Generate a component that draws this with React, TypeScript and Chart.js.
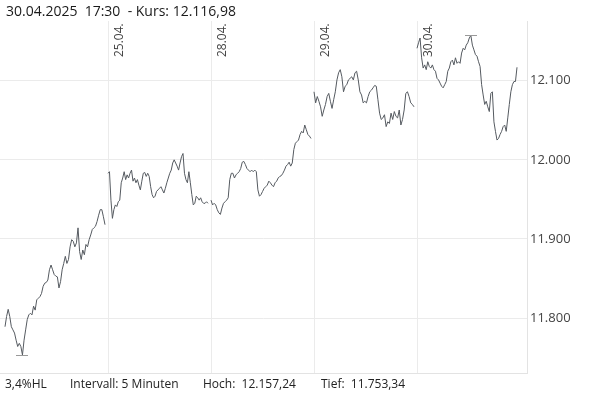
import React, { useEffect, useRef } from "react";
import { Chart, registerables } from "chart.js";

Chart.register(...registerables);

// Day session labels (first day 24.04. has no label)
const dayLabels = ["24.04.", "25.04.", "28.04.", "29.04.", "30.04."];
const shownDayLabels = ["", "25.04.", "28.04.", "29.04.", "30.04."];

// 5-minute closes per trading day
const day1 = [
  11789, 11802, 11811, 11802, 11789, 11785, 11781, 11772, 11764, 11768, 11764, 11753.34,
  11772, 11785, 11798, 11804, 11806, 11804, 11815, 11810, 11823, 11825, 11827, 11831,
  11840, 11844, 11845, 11848, 11861, 11867, 11861, 11855, 11853, 11852, 11838, 11846,
  11861, 11869, 11878, 11869, 11874, 11890, 11899, 11897, 11890, 11895, 11914, 11884,
  11874, 11886, 11880, 11893, 11890, 11899, 11905, 11912, 11914, 11916, 11922, 11930,
  11937, 11937, 11928, 11918,
];
const day2 = [
  11983, 11985, 11949, 11926, 11937, 11943, 11941, 11947, 11949, 11971, 11977, 11985,
  11975, 11981, 11977, 11983, 11987, 11973, 11977, 11971, 11975, 11968, 11962, 11973,
  11983, 11984, 11979, 11983, 11979, 11966, 11956, 11952, 11954, 11960, 11962, 11964,
  11966, 11962, 11958, 11964, 11971, 11977, 11983, 11987, 11996, 12000, 11996, 11992,
  11987, 11996, 12004, 12008, 11983, 11975, 11971, 11985, 11971, 11956, 11943, 11945,
  11954, 11952, 11949, 11952, 11947, 11945, 11945, 11947, 11945,
];
const day3 = [
  11949, 11943, 11945, 11943, 11937, 11933, 11931, 11939, 11945, 11947, 11949, 11952,
  11975, 11983, 11983, 11977, 11981, 11983, 11985, 11989, 11997, 11998, 11994, 11989,
  11987, 11985, 11987, 11985, 11987, 11985, 11962, 11954, 11956, 11960, 11964, 11966,
  11968, 11973, 11971, 11968, 11966, 11971, 11973, 11977, 11979, 11980, 11983, 11987,
  11992, 11994, 11997, 11992, 11996, 12013, 12021, 12023, 12025, 12032, 12036, 12034,
  12044, 12038, 12032, 12030, 12027,
];
const day4 = [
  12086, 12072, 12080, 12074, 12067, 12055, 12063, 12070, 12080, 12084, 12074, 12065,
  12076, 12086, 12101, 12110, 12114, 12105, 12086, 12093, 12095, 12101, 12103, 12105,
  12101, 12110, 12112, 12101, 12086, 12082, 12072, 12074, 12072, 12080, 12086, 12088,
  12091, 12094, 12093, 12076, 12059, 12051, 12053, 12057, 12042, 12048, 12046, 12059,
  12051, 12061, 12055, 12053, 12063, 12044, 12051, 12063, 12084, 12086, 12080, 12072,
  12070, 12067,
];
const day5 = [
  12141, 12148, 12154, 12129, 12116, 12120, 12114, 12124, 12118, 12116, 12120, 12114,
  12112, 12103, 12101, 12097, 12093, 12091, 12095, 12099, 12112, 12116, 12124, 12126,
  12120, 12129, 12122, 12124, 12122, 12135, 12141, 12139, 12145, 12148, 12154, 12157.24,
  12145, 12139, 12133, 12131, 12124, 12118, 12095, 12082, 12070, 12074, 12067, 12061,
  12084, 12086, 12048, 12036, 12025, 12027, 12032, 12036, 12042, 12044, 12036, 12053,
  12070, 12086, 12095, 12099, 12099, 12116.98,
];
const days = [day1, day2, day3, day4, day5];

const yTicks = [11800, 11900, 12000, 12100];

const headerText = "30.04.2025  17:30  - Kurs: 12.116,98";
const footerTexts = ["3,4%HL", "Intervall: 5 Minuten", "Hoch:  12.157,24", "Tief:  11.753,34"];

// session geometry in 5-minute slots
const SLOTS_PER_DAY = 103;
const SESSION_SLOTS = 100;

export default function App() {
  const ref = useRef<HTMLCanvasElement | null>(null);

  useEffect(() => {
    document.body.style.margin = "0";
    const canvas = ref.current!;
    const datasets = days.map((vals, k) => ({
      label: dayLabels[k],
      data: vals.map((v, i) => ({
        x: k * SLOTS_PER_DAY + (i * SESSION_SLOTS) / (vals.length - 1),
        y: v,
      })),
      borderColor: "#555a60",
      borderWidth: 1,
      pointRadius: 0,
      tension: 0,
      fill: false,
    }));

    const dayLabelPlugin = {
      id: "dayLabels",
      beforeDatasetsDraw(chart: any) {
        const { ctx, chartArea, scales } = chart;
        ctx.save();
        ctx.font = "12px 'Open Sans'";
        ctx.fillStyle = "#444";
        ctx.textBaseline = "alphabetic";
        ctx.textAlign = "left";
        shownDayLabels.forEach((lab, k) => {
          if (!lab) return;
          const gx = scales.x.getPixelForValue(k * SLOTS_PER_DAY);
          ctx.save();
          ctx.translate(gx, chartArea.top + 36);
          ctx.rotate(-Math.PI / 2);
          ctx.fillText(lab, 0, 14.5);
          ctx.restore();
        });
        ctx.restore();
      },
      afterDatasetsDraw(chart: any) {
        const { ctx, scales } = chart;
        let hi = { x: 0, y: -Infinity };
        let lo = { x: 0, y: Infinity };
        chart.data.datasets.forEach((ds: any) => {
          ds.data.forEach((p: any) => {
            if (p.y > hi.y) hi = p;
            if (p.y < lo.y) lo = p;
          });
        });
        ctx.save();
        ctx.strokeStyle = "#999";
        ctx.lineWidth = 1;
        [hi, lo].forEach((p) => {
          const px = Math.round(scales.x.getPixelForValue(p.x));
          const py = Math.round(scales.y.getPixelForValue(p.y)) + 0.5;
          ctx.beginPath();
          ctx.moveTo(px - 6, py);
          ctx.lineTo(px + 6, py);
          ctx.stroke();
        });
        ctx.restore();
      },
    };

    const chart = new Chart(canvas, {
      type: "line",
      data: { datasets },
      options: {
        animation: false,
        responsive: false,
        maintainAspectRatio: false,
        devicePixelRatio: 1,
        layout: { padding: { top: 21, right: 0, bottom: 24, left: 0 } },
        plugins: { legend: { display: false }, tooltip: { enabled: false }, title: { display: false } },
        scales: {
          x: {
            type: "linear",
            min: -5,
            max: 522,
            grid: { color: "#ebebeb", drawTicks: false },
            border: { display: true, color: "#e3e3e3" },
            ticks: { display: false },
            afterBuildTicks: (scale: any) => {
              scale.ticks = [1, 2, 3, 4].map((k) => ({ value: k * SLOTS_PER_DAY }));
            },
          },
          y: {
            type: "linear",
            position: "right",
            min: 11730.5,
            max: 12175.5,
            grid: { color: "#ebebeb", drawTicks: false },
            border: { display: true, color: "#e3e3e3" },
            ticks: {
              padding: 3,
              color: "#444",
              font: { family: "'Open Sans'", size: 13 },
              callback: (v: any) => Number(v).toLocaleString("de-DE"),
            },
            afterBuildTicks: (scale: any) => {
              scale.ticks = yTicks.map((v) => ({ value: v }));
            },
            afterFit: (scale: any) => {
              scale.width = 62;
            },
          },
        },
      },
      plugins: [dayLabelPlugin],
    });
    return () => chart.destroy();
  }, []);

  const footerX = [5, 70, 203, 321];

  return (
    <div style={{ position: "absolute", left: 0, top: 0, width: 589, height: 397, background: "#fff", overflow: "hidden" }}>
      <canvas ref={ref} width={589} height={397} style={{ position: "absolute", left: 0, top: 0, display: "block" }} />
      <div
        style={{
          position: "absolute",
          left: 6,
          top: 1,
          fontFamily: "'Open Sans'",
          fontSize: 14,
          color: "#1a1a1a",
          whiteSpace: "pre",
          lineHeight: "20px",
        }}
      >
        {headerText}
      </div>
      {footerTexts.map((t, i) => (
        <div
          key={i}
          style={{
            position: "absolute",
            left: footerX[i],
            top: 376,
            fontFamily: "'Open Sans'",
            fontSize: 12,
            color: "#222",
            whiteSpace: "pre",
            lineHeight: "16px",
          }}
        >
          {t}
        </div>
      ))}
    </div>
  );
}
